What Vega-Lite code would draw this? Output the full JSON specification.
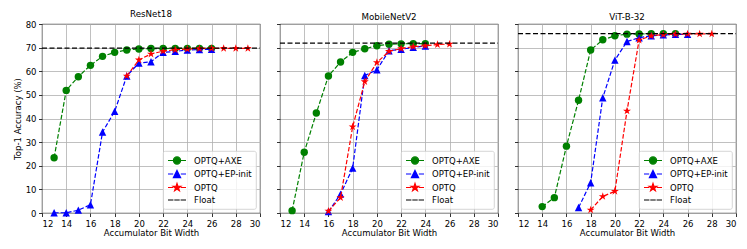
{
  "$schema": "https://vega.github.io/schema/vega-lite/v6.json",
  "padding": {"left": 12, "top": 9, "right": 5, "bottom": 5},
  "background": "white",
  "datasets": {
    "acc": [
      {"model": "ResNet18", "series": "OPTQ+AXE", "bits": 13, "acc": 23.4},
      {"model": "ResNet18", "series": "OPTQ+AXE", "bits": 14, "acc": 51.9},
      {"model": "ResNet18", "series": "OPTQ+AXE", "bits": 15, "acc": 57.7},
      {"model": "ResNet18", "series": "OPTQ+AXE", "bits": 16, "acc": 62.5},
      {"model": "ResNet18", "series": "OPTQ+AXE", "bits": 17, "acc": 66.3},
      {"model": "ResNet18", "series": "OPTQ+AXE", "bits": 18, "acc": 68.0},
      {"model": "ResNet18", "series": "OPTQ+AXE", "bits": 19, "acc": 69.0},
      {"model": "ResNet18", "series": "OPTQ+AXE", "bits": 20, "acc": 69.4},
      {"model": "ResNet18", "series": "OPTQ+AXE", "bits": 21, "acc": 69.6},
      {"model": "ResNet18", "series": "OPTQ+AXE", "bits": 22, "acc": 69.6},
      {"model": "ResNet18", "series": "OPTQ+AXE", "bits": 23, "acc": 69.7},
      {"model": "ResNet18", "series": "OPTQ+AXE", "bits": 24, "acc": 69.7},
      {"model": "ResNet18", "series": "OPTQ+AXE", "bits": 25, "acc": 69.7},
      {"model": "ResNet18", "series": "OPTQ+AXE", "bits": 26, "acc": 69.7},
      {"model": "ResNet18", "series": "OPTQ+EP-init", "bits": 13, "acc": 0.1},
      {"model": "ResNet18", "series": "OPTQ+EP-init", "bits": 14, "acc": 0.1},
      {"model": "ResNet18", "series": "OPTQ+EP-init", "bits": 15, "acc": 1.2},
      {"model": "ResNet18", "series": "OPTQ+EP-init", "bits": 16, "acc": 3.5},
      {"model": "ResNet18", "series": "OPTQ+EP-init", "bits": 17, "acc": 34.3},
      {"model": "ResNet18", "series": "OPTQ+EP-init", "bits": 18, "acc": 43.0},
      {"model": "ResNet18", "series": "OPTQ+EP-init", "bits": 19, "acc": 58.0},
      {"model": "ResNet18", "series": "OPTQ+EP-init", "bits": 20, "acc": 63.5},
      {"model": "ResNet18", "series": "OPTQ+EP-init", "bits": 21, "acc": 64.0},
      {"model": "ResNet18", "series": "OPTQ+EP-init", "bits": 22, "acc": 68.0},
      {"model": "ResNet18", "series": "OPTQ+EP-init", "bits": 23, "acc": 68.4},
      {"model": "ResNet18", "series": "OPTQ+EP-init", "bits": 24, "acc": 69.0},
      {"model": "ResNet18", "series": "OPTQ+EP-init", "bits": 25, "acc": 69.2},
      {"model": "ResNet18", "series": "OPTQ+EP-init", "bits": 26, "acc": 69.3},
      {"model": "ResNet18", "series": "OPTQ", "bits": 19, "acc": 58.0},
      {"model": "ResNet18", "series": "OPTQ", "bits": 20, "acc": 64.8},
      {"model": "ResNet18", "series": "OPTQ", "bits": 21, "acc": 67.3},
      {"model": "ResNet18", "series": "OPTQ", "bits": 22, "acc": 68.5},
      {"model": "ResNet18", "series": "OPTQ", "bits": 23, "acc": 69.1},
      {"model": "ResNet18", "series": "OPTQ", "bits": 24, "acc": 69.4},
      {"model": "ResNet18", "series": "OPTQ", "bits": 25, "acc": 69.6},
      {"model": "ResNet18", "series": "OPTQ", "bits": 26, "acc": 69.7},
      {"model": "ResNet18", "series": "OPTQ", "bits": 27, "acc": 69.7},
      {"model": "ResNet18", "series": "OPTQ", "bits": 28, "acc": 69.7},
      {"model": "ResNet18", "series": "OPTQ", "bits": 29, "acc": 69.7},
      {"model": "ResNet18", "series": "Float", "bits": 12, "acc": 69.76},
      {"model": "ResNet18", "series": "Float", "bits": 30, "acc": 69.76},

      {"model": "MobileNetV2", "series": "OPTQ+AXE", "bits": 13, "acc": 1.0},
      {"model": "MobileNetV2", "series": "OPTQ+AXE", "bits": 14, "acc": 25.7},
      {"model": "MobileNetV2", "series": "OPTQ+AXE", "bits": 15, "acc": 42.3},
      {"model": "MobileNetV2", "series": "OPTQ+AXE", "bits": 16, "acc": 58.0},
      {"model": "MobileNetV2", "series": "OPTQ+AXE", "bits": 17, "acc": 63.9},
      {"model": "MobileNetV2", "series": "OPTQ+AXE", "bits": 18, "acc": 68.0},
      {"model": "MobileNetV2", "series": "OPTQ+AXE", "bits": 19, "acc": 69.5},
      {"model": "MobileNetV2", "series": "OPTQ+AXE", "bits": 20, "acc": 70.8},
      {"model": "MobileNetV2", "series": "OPTQ+AXE", "bits": 21, "acc": 71.4},
      {"model": "MobileNetV2", "series": "OPTQ+AXE", "bits": 22, "acc": 71.6},
      {"model": "MobileNetV2", "series": "OPTQ+AXE", "bits": 23, "acc": 71.7},
      {"model": "MobileNetV2", "series": "OPTQ+AXE", "bits": 24, "acc": 71.7},
      {"model": "MobileNetV2", "series": "OPTQ+EP-init", "bits": 16, "acc": 0.6},
      {"model": "MobileNetV2", "series": "OPTQ+EP-init", "bits": 17, "acc": 8.0},
      {"model": "MobileNetV2", "series": "OPTQ+EP-init", "bits": 18, "acc": 19.0},
      {"model": "MobileNetV2", "series": "OPTQ+EP-init", "bits": 19, "acc": 58.2},
      {"model": "MobileNetV2", "series": "OPTQ+EP-init", "bits": 20, "acc": 60.6},
      {"model": "MobileNetV2", "series": "OPTQ+EP-init", "bits": 21, "acc": 68.7},
      {"model": "MobileNetV2", "series": "OPTQ+EP-init", "bits": 22, "acc": 69.3},
      {"model": "MobileNetV2", "series": "OPTQ+EP-init", "bits": 23, "acc": 70.1},
      {"model": "MobileNetV2", "series": "OPTQ+EP-init", "bits": 24, "acc": 70.7},
      {"model": "MobileNetV2", "series": "OPTQ", "bits": 16, "acc": 0.8},
      {"model": "MobileNetV2", "series": "OPTQ", "bits": 17, "acc": 6.5},
      {"model": "MobileNetV2", "series": "OPTQ", "bits": 18, "acc": 36.5},
      {"model": "MobileNetV2", "series": "OPTQ", "bits": 19, "acc": 55.6},
      {"model": "MobileNetV2", "series": "OPTQ", "bits": 20, "acc": 63.7},
      {"model": "MobileNetV2", "series": "OPTQ", "bits": 21, "acc": 68.4},
      {"model": "MobileNetV2", "series": "OPTQ", "bits": 22, "acc": 69.6},
      {"model": "MobileNetV2", "series": "OPTQ", "bits": 23, "acc": 70.4},
      {"model": "MobileNetV2", "series": "OPTQ", "bits": 24, "acc": 70.8},
      {"model": "MobileNetV2", "series": "OPTQ", "bits": 25, "acc": 71.3},
      {"model": "MobileNetV2", "series": "OPTQ", "bits": 26, "acc": 71.5},
      {"model": "MobileNetV2", "series": "Float", "bits": 12, "acc": 71.9},
      {"model": "MobileNetV2", "series": "Float", "bits": 30, "acc": 71.9},

      {"model": "ViT-B-32", "series": "OPTQ+AXE", "bits": 14, "acc": 2.7},
      {"model": "ViT-B-32", "series": "OPTQ+AXE", "bits": 15, "acc": 6.5},
      {"model": "ViT-B-32", "series": "OPTQ+AXE", "bits": 16, "acc": 28.3},
      {"model": "ViT-B-32", "series": "OPTQ+AXE", "bits": 17, "acc": 47.7},
      {"model": "ViT-B-32", "series": "OPTQ+AXE", "bits": 18, "acc": 69.0},
      {"model": "ViT-B-32", "series": "OPTQ+AXE", "bits": 19, "acc": 73.3},
      {"model": "ViT-B-32", "series": "OPTQ+AXE", "bits": 20, "acc": 75.0},
      {"model": "ViT-B-32", "series": "OPTQ+AXE", "bits": 21, "acc": 75.7},
      {"model": "ViT-B-32", "series": "OPTQ+AXE", "bits": 22, "acc": 75.8},
      {"model": "ViT-B-32", "series": "OPTQ+AXE", "bits": 23, "acc": 75.9},
      {"model": "ViT-B-32", "series": "OPTQ+AXE", "bits": 24, "acc": 75.9},
      {"model": "ViT-B-32", "series": "OPTQ+AXE", "bits": 25, "acc": 75.9},
      {"model": "ViT-B-32", "series": "OPTQ+EP-init", "bits": 17, "acc": 2.3},
      {"model": "ViT-B-32", "series": "OPTQ+EP-init", "bits": 18, "acc": 12.8},
      {"model": "ViT-B-32", "series": "OPTQ+EP-init", "bits": 19, "acc": 48.8},
      {"model": "ViT-B-32", "series": "OPTQ+EP-init", "bits": 20, "acc": 64.7},
      {"model": "ViT-B-32", "series": "OPTQ+EP-init", "bits": 21, "acc": 72.6},
      {"model": "ViT-B-32", "series": "OPTQ+EP-init", "bits": 22, "acc": 74.2},
      {"model": "ViT-B-32", "series": "OPTQ+EP-init", "bits": 23, "acc": 75.0},
      {"model": "ViT-B-32", "series": "OPTQ+EP-init", "bits": 24, "acc": 75.4},
      {"model": "ViT-B-32", "series": "OPTQ+EP-init", "bits": 25, "acc": 75.6},
      {"model": "ViT-B-32", "series": "OPTQ+EP-init", "bits": 26, "acc": 75.6},
      {"model": "ViT-B-32", "series": "OPTQ", "bits": 18, "acc": 1.3},
      {"model": "ViT-B-32", "series": "OPTQ", "bits": 19, "acc": 7.0},
      {"model": "ViT-B-32", "series": "OPTQ", "bits": 20, "acc": 9.2},
      {"model": "ViT-B-32", "series": "OPTQ", "bits": 21, "acc": 43.2},
      {"model": "ViT-B-32", "series": "OPTQ", "bits": 22, "acc": 73.2},
      {"model": "ViT-B-32", "series": "OPTQ", "bits": 23, "acc": 75.0},
      {"model": "ViT-B-32", "series": "OPTQ", "bits": 24, "acc": 75.5},
      {"model": "ViT-B-32", "series": "OPTQ", "bits": 25, "acc": 75.7},
      {"model": "ViT-B-32", "series": "OPTQ", "bits": 26, "acc": 75.8},
      {"model": "ViT-B-32", "series": "OPTQ", "bits": 27, "acc": 75.8},
      {"model": "ViT-B-32", "series": "OPTQ", "bits": 28, "acc": 75.8},
      {"model": "ViT-B-32", "series": "Float", "bits": 12, "acc": 75.95},
      {"model": "ViT-B-32", "series": "Float", "bits": 30, "acc": 75.95}
    ]
  },
  "spacing": 20,
  "bounds": "flush",
  "hconcat": [
    {
      "width": 218, "height": 189,
      "title": "ResNet18",
      "data": {"name": "acc"},
      "transform": [{"filter": "datum.model === 'ResNet18'"}],
      "encoding": {
        "x": {"field": "bits", "type": "quantitative", "scale": {"domain": [12, 30], "nice": false, "zero": false}, "axis": {"values": [12, 14, 16, 18, 20, 22, 24, 26, 28, 30], "title": "Accumulator Bit Width"}},
        "y": {"field": "acc", "type": "quantitative", "scale": {"domain": [0, 80], "nice": false}, "axis": {"values": [0, 10, 20, 30, 40, 50, 60, 70, 80], "title": "Top-1 Accuracy (%)"}}
      },
      "layer": [
        {"transform": [{"filter": "datum.series === 'OPTQ+AXE'"}], "mark": {"type": "line", "strokeWidth": 1.2, "strokeDash": [4.5, 2], "color": "#008000"}, "encoding": {}},
        {"transform": [{"filter": "datum.series === 'OPTQ+AXE'"}], "mark": {"type": "point", "shape": "circle", "filled": true, "size": 55, "opacity": 1, "color": "#008000"}, "encoding": {}},
        {"transform": [{"filter": "datum.series === 'OPTQ+EP-init'"}], "mark": {"type": "line", "strokeWidth": 1.2, "strokeDash": [4.5, 2], "color": "#0000ff"}, "encoding": {}},
        {"transform": [{"filter": "datum.series === 'OPTQ+EP-init'"}], "mark": {"type": "point", "shape": "M0,-1L1,1L-1,1Z", "filled": true, "size": 55, "opacity": 1, "color": "#0000ff"}, "encoding": {}},
        {"transform": [{"filter": "datum.series === 'OPTQ'"}], "mark": {"type": "line", "strokeWidth": 1.2, "strokeDash": [4.5, 2], "color": "#ff0000"}, "encoding": {}},
        {"transform": [{"filter": "datum.series === 'OPTQ'"}], "mark": {"type": "point", "shape": "M0,-1L0.225,-0.309L0.951,-0.309L0.363,0.118L0.588,0.809L0,0.382L-0.588,0.809L-0.363,0.118L-0.951,-0.309L-0.225,-0.309Z", "filled": true, "size": 70, "opacity": 1, "color": "#ff0000"}, "encoding": {}},
        {"transform": [{"filter": "datum.series === 'Float'"}], "mark": {"type": "line", "strokeWidth": 1.3, "strokeDash": [5, 2.5], "color": "#000000"}, "encoding": {}},
        {"transform": [{"filter": "datum.acc < -100"}], "mark": {"type": "point", "filled": true, "opacity": 1, "strokeWidth": 1.2},
         "encoding": {
           "fill": {"field": "series", "type": "nominal", "title": null, "scale": {"domain": ["OPTQ+AXE", "OPTQ+EP-init", "OPTQ", "Float"], "range": ["#008000", "#0000ff", "#ff0000", "#000000"]}},
           "stroke": {"field": "series", "type": "nominal", "title": null, "scale": {"domain": ["OPTQ+AXE", "OPTQ+EP-init", "OPTQ", "Float"], "range": ["#008000", "#0000ff", "#ff0000", "#000000"]}},
           "shape": {"field": "series", "type": "nominal", "title": null, "scale": {"domain": ["OPTQ+AXE", "OPTQ+EP-init", "OPTQ", "Float"], "range": [
             "M-1,0H0.15M1.85,0H3M1.8,0A0.8,0.8,0,1,1,0.2,0A0.8,0.8,0,1,1,1.8,0Z",
             "M-1,0H0.15M1.85,0H3M1,-0.8L1.8,0.8L0.2,0.8Z",
             "M-1,0H0.15M1.85,0H3M1,-0.9L1.202,-0.278L1.856,-0.278L1.327,0.106L1.529,0.728L1,0.344L0.471,0.728L0.673,0.106L0.144,-0.278L0.798,-0.278Z",
             "M-1,0H0.2M0.4,0H1.6M1.8,0H3"]}}
         }}
      ]
    },
    {
      "width": 218, "height": 189,
      "title": "MobileNetV2",
      "data": {"name": "acc"},
      "transform": [{"filter": "datum.model === 'MobileNetV2'"}],
      "encoding": {
        "x": {"field": "bits", "type": "quantitative", "scale": {"domain": [12, 30], "nice": false, "zero": false}, "axis": {"values": [12, 14, 16, 18, 20, 22, 24, 26, 28, 30], "title": "Accumulator Bit Width"}},
        "y": {"field": "acc", "type": "quantitative", "scale": {"domain": [0, 80], "nice": false}, "axis": {"values": [0, 10, 20, 30, 40, 50, 60, 70, 80], "labels": false, "title": null}}
      },
      "layer": [
        {"transform": [{"filter": "datum.series === 'OPTQ+AXE'"}], "mark": {"type": "line", "strokeWidth": 1.2, "strokeDash": [4.5, 2], "color": "#008000"}, "encoding": {}},
        {"transform": [{"filter": "datum.series === 'OPTQ+AXE'"}], "mark": {"type": "point", "shape": "circle", "filled": true, "size": 55, "opacity": 1, "color": "#008000"}, "encoding": {}},
        {"transform": [{"filter": "datum.series === 'OPTQ+EP-init'"}], "mark": {"type": "line", "strokeWidth": 1.2, "strokeDash": [4.5, 2], "color": "#0000ff"}, "encoding": {}},
        {"transform": [{"filter": "datum.series === 'OPTQ+EP-init'"}], "mark": {"type": "point", "shape": "M0,-1L1,1L-1,1Z", "filled": true, "size": 55, "opacity": 1, "color": "#0000ff"}, "encoding": {}},
        {"transform": [{"filter": "datum.series === 'OPTQ'"}], "mark": {"type": "line", "strokeWidth": 1.2, "strokeDash": [4.5, 2], "color": "#ff0000"}, "encoding": {}},
        {"transform": [{"filter": "datum.series === 'OPTQ'"}], "mark": {"type": "point", "shape": "M0,-1L0.225,-0.309L0.951,-0.309L0.363,0.118L0.588,0.809L0,0.382L-0.588,0.809L-0.363,0.118L-0.951,-0.309L-0.225,-0.309Z", "filled": true, "size": 70, "opacity": 1, "color": "#ff0000"}, "encoding": {}},
        {"transform": [{"filter": "datum.series === 'Float'"}], "mark": {"type": "line", "strokeWidth": 1.3, "strokeDash": [5, 2.5], "color": "#000000"}, "encoding": {}},
        {"transform": [{"filter": "datum.acc < -100"}], "mark": {"type": "point", "filled": true, "opacity": 1, "strokeWidth": 1.2},
         "encoding": {
           "fill": {"field": "series", "type": "nominal", "title": null, "scale": {"domain": ["OPTQ+AXE", "OPTQ+EP-init", "OPTQ", "Float"], "range": ["#008000", "#0000ff", "#ff0000", "#000000"]}},
           "stroke": {"field": "series", "type": "nominal", "title": null, "scale": {"domain": ["OPTQ+AXE", "OPTQ+EP-init", "OPTQ", "Float"], "range": ["#008000", "#0000ff", "#ff0000", "#000000"]}},
           "shape": {"field": "series", "type": "nominal", "title": null, "scale": {"domain": ["OPTQ+AXE", "OPTQ+EP-init", "OPTQ", "Float"], "range": [
             "M-1,0H0.15M1.85,0H3M1.8,0A0.8,0.8,0,1,1,0.2,0A0.8,0.8,0,1,1,1.8,0Z",
             "M-1,0H0.15M1.85,0H3M1,-0.8L1.8,0.8L0.2,0.8Z",
             "M-1,0H0.15M1.85,0H3M1,-0.9L1.202,-0.278L1.856,-0.278L1.327,0.106L1.529,0.728L1,0.344L0.471,0.728L0.673,0.106L0.144,-0.278L0.798,-0.278Z",
             "M-1,0H0.2M0.4,0H1.6M1.8,0H3"]}}
         }}
      ]
    },
    {
      "width": 218, "height": 189,
      "title": "ViT-B-32",
      "data": {"name": "acc"},
      "transform": [{"filter": "datum.model === 'ViT-B-32'"}],
      "encoding": {
        "x": {"field": "bits", "type": "quantitative", "scale": {"domain": [12, 30], "nice": false, "zero": false}, "axis": {"values": [12, 14, 16, 18, 20, 22, 24, 26, 28, 30], "title": "Accumulator Bit Width"}},
        "y": {"field": "acc", "type": "quantitative", "scale": {"domain": [0, 80], "nice": false}, "axis": {"values": [0, 10, 20, 30, 40, 50, 60, 70, 80], "labels": false, "title": null}}
      },
      "layer": [
        {"transform": [{"filter": "datum.series === 'OPTQ+AXE'"}], "mark": {"type": "line", "strokeWidth": 1.2, "strokeDash": [4.5, 2], "color": "#008000"}, "encoding": {}},
        {"transform": [{"filter": "datum.series === 'OPTQ+AXE'"}], "mark": {"type": "point", "shape": "circle", "filled": true, "size": 55, "opacity": 1, "color": "#008000"}, "encoding": {}},
        {"transform": [{"filter": "datum.series === 'OPTQ+EP-init'"}], "mark": {"type": "line", "strokeWidth": 1.2, "strokeDash": [4.5, 2], "color": "#0000ff"}, "encoding": {}},
        {"transform": [{"filter": "datum.series === 'OPTQ+EP-init'"}], "mark": {"type": "point", "shape": "M0,-1L1,1L-1,1Z", "filled": true, "size": 55, "opacity": 1, "color": "#0000ff"}, "encoding": {}},
        {"transform": [{"filter": "datum.series === 'OPTQ'"}], "mark": {"type": "line", "strokeWidth": 1.2, "strokeDash": [4.5, 2], "color": "#ff0000"}, "encoding": {}},
        {"transform": [{"filter": "datum.series === 'OPTQ'"}], "mark": {"type": "point", "shape": "M0,-1L0.225,-0.309L0.951,-0.309L0.363,0.118L0.588,0.809L0,0.382L-0.588,0.809L-0.363,0.118L-0.951,-0.309L-0.225,-0.309Z", "filled": true, "size": 70, "opacity": 1, "color": "#ff0000"}, "encoding": {}},
        {"transform": [{"filter": "datum.series === 'Float'"}], "mark": {"type": "line", "strokeWidth": 1.3, "strokeDash": [5, 2.5], "color": "#000000"}, "encoding": {}},
        {"transform": [{"filter": "datum.acc < -100"}], "mark": {"type": "point", "filled": true, "opacity": 1, "strokeWidth": 1.2},
         "encoding": {
           "fill": {"field": "series", "type": "nominal", "title": null, "scale": {"domain": ["OPTQ+AXE", "OPTQ+EP-init", "OPTQ", "Float"], "range": ["#008000", "#0000ff", "#ff0000", "#000000"]}},
           "stroke": {"field": "series", "type": "nominal", "title": null, "scale": {"domain": ["OPTQ+AXE", "OPTQ+EP-init", "OPTQ", "Float"], "range": ["#008000", "#0000ff", "#ff0000", "#000000"]}},
           "shape": {"field": "series", "type": "nominal", "title": null, "scale": {"domain": ["OPTQ+AXE", "OPTQ+EP-init", "OPTQ", "Float"], "range": [
             "M-1,0H0.15M1.85,0H3M1.8,0A0.8,0.8,0,1,1,0.2,0A0.8,0.8,0,1,1,1.8,0Z",
             "M-1,0H0.15M1.85,0H3M1,-0.8L1.8,0.8L0.2,0.8Z",
             "M-1,0H0.15M1.85,0H3M1,-0.9L1.202,-0.278L1.856,-0.278L1.327,0.106L1.529,0.728L1,0.344L0.471,0.728L0.673,0.106L0.144,-0.278L0.798,-0.278Z",
             "M-1,0H0.2M0.4,0H1.6M1.8,0H3"]}}
         }}
      ]
    }
  ],
  "resolve": {
    "scale": {"x": "independent", "y": "independent", "fill": "independent", "stroke": "independent", "shape": "independent"},
    "legend": {"fill": "independent", "stroke": "independent", "shape": "independent"}
  },
  "config": {
    "font": "DejaVu Sans",
    "view": {"stroke": "#000000", "strokeWidth": 0.8},
    "axis": {
      "labelFont": "DejaVu Sans", "labelFontSize": 8.5, "labelColor": "#000000",
      "titleFont": "DejaVu Sans", "titleFontSize": 8.5, "titleFontWeight": "normal", "titleColor": "#000000",
      "tickColor": "#000000", "tickSize": 3.5, "tickWidth": 0.8, "domain": false,
      "gridColor": "#b0b0b0", "gridWidth": 0.8, "labelPadding": 2.5, "titlePadding": 3
    },
    "axisX": {"titlePadding": 0.5},
    "title": {"font": "DejaVu Sans", "fontSize": 8.7, "fontWeight": "normal", "color": "#000000", "offset": 1.5, "frame": "group"},
    "legend": {
      "orient": "bottom-right", "labelFont": "DejaVu Sans", "labelFontSize": 8.5, "labelColor": "#000000",
      "symbolSize": 81, "symbolStrokeWidth": 1.2, "labelOffset": 16, "rowPadding": 0.5,
      "padding": 4, "offset": 4, "strokeColor": "#cccccc", "strokeWidth": 0.8,
      "fillColor": "rgba(255,255,255,0.8)", "cornerRadius": 2
    }
  }
}
